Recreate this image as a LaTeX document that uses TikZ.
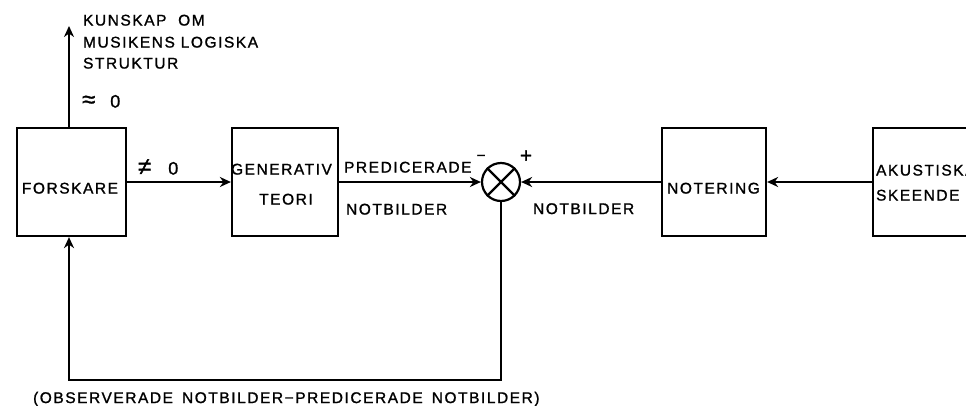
\documentclass[tikz,border=0pt]{standalone}
\usepackage{fontspec}
\setmainfont{Liberation Sans}[LetterSpace=10, FakeBold=1.2]
\usetikzlibrary{arrows.meta}
\newcommand\symsize{\fontsize{24}{26}\selectfont}
\newcommand\zerosize{\fontsize{18}{20}\selectfont}

\begin{document}
\begin{tikzpicture}[x=1pt, y=-1pt, line width=2.2pt,
    arr/.style={-{Stealth[length=11pt, width=10pt, inset=3.5pt]}},
    blk/.style={draw, rectangle, inner sep=0pt, minimum height=108pt},
    sumpt/.style={draw, circle, inner sep=0pt, minimum size=38pt},
    txt/.style={inner sep=0pt, text height=11.1pt, text depth=0pt,
                font=\fontsize{15.5}{18}\selectfont},
    lbl/.style={txt, anchor=west}]

  \useasboundingbox (0,0) rectangle (966,405);
  \clip (0,0) rectangle (966,405);

  % blocks of the loop
  \node[blk, minimum width=109pt] (f) at (71.5,182) {};
  \node[blk, minimum width=106pt] (g) at (285,182) {};
  \node[blk, minimum width=104pt] (n) at (714,182) {};
  \node[blk, minimum width=108pt] (a) at (927,182) {};
  \node[sumpt] (s) at (501,182) {};
  \draw (s.north west) -- (s.south east);
  \draw (s.north east) -- (s.south west);

  % texts inside the blocks
  \node[txt] (ft) at (70,188) {FORSKARE};
  \node[txt] (gt1) at (281.5,169) {GENERATIV};
  \node[txt] (gt2) at (286,199) {TEORI};
  \node[txt] (nt) at (713.5,188) {NOTERING};
  \node[lbl] (at1) at (875,170) {AKUSTISKA};
  \node[lbl] (at2) at (875,195) {SKEENDE};

  % signal flow
  \coordinate (top) at (69,26);
  \coordinate (fb) at (69,380);
  \draw[arr] ([xshift=-2.5]f.north) -- (top);
  \draw[arr] (f.east) -- (g.west);
  \draw[arr] (g.east) -- (s.west);
  \draw[arr] (n.west) -- (s.east);
  \draw[arr] (a.west) -- (n.east);
  \draw[arr] (s.south) |- (fb) -- ([xshift=-2.5]f.south);

  % labels
  \node[lbl] (k1) at (82,20) {KUNSKAP\ \ OM};
  \node[lbl] (k2) at (82,42) {MUSIKENS LOGISKA};
  \node[lbl] (k3) at (82,63) {STRUKTUR};
  \node[lbl] (approx) at (81,102) {{\symsize ≈}\hspace{15pt}{\zerosize 0}};
  \node[lbl] (neq) at (137,169) {{\symsize ≠}\hspace{17pt}{\zerosize 0}};
  \node[lbl] (p1) at (343,167) {PREDICERADE};
  \node[lbl] (p2) at (345,209) {NOTBILDER};
  \node[txt] (minus) at (481,155) {−};
  \node[txt, font=\fontsize{21}{24}\selectfont] (plus) at (526,157) {+};
  \node[lbl] (o1) at (532,208.5) {NOTBILDER};
  \node[lbl] (diff) at (32,397.5) {(OBSERVERADE\hspace{9pt}NOTBILDER−PREDICERADE\hspace{9pt}NOTBILDER)};
\end{tikzpicture}
\end{document}
